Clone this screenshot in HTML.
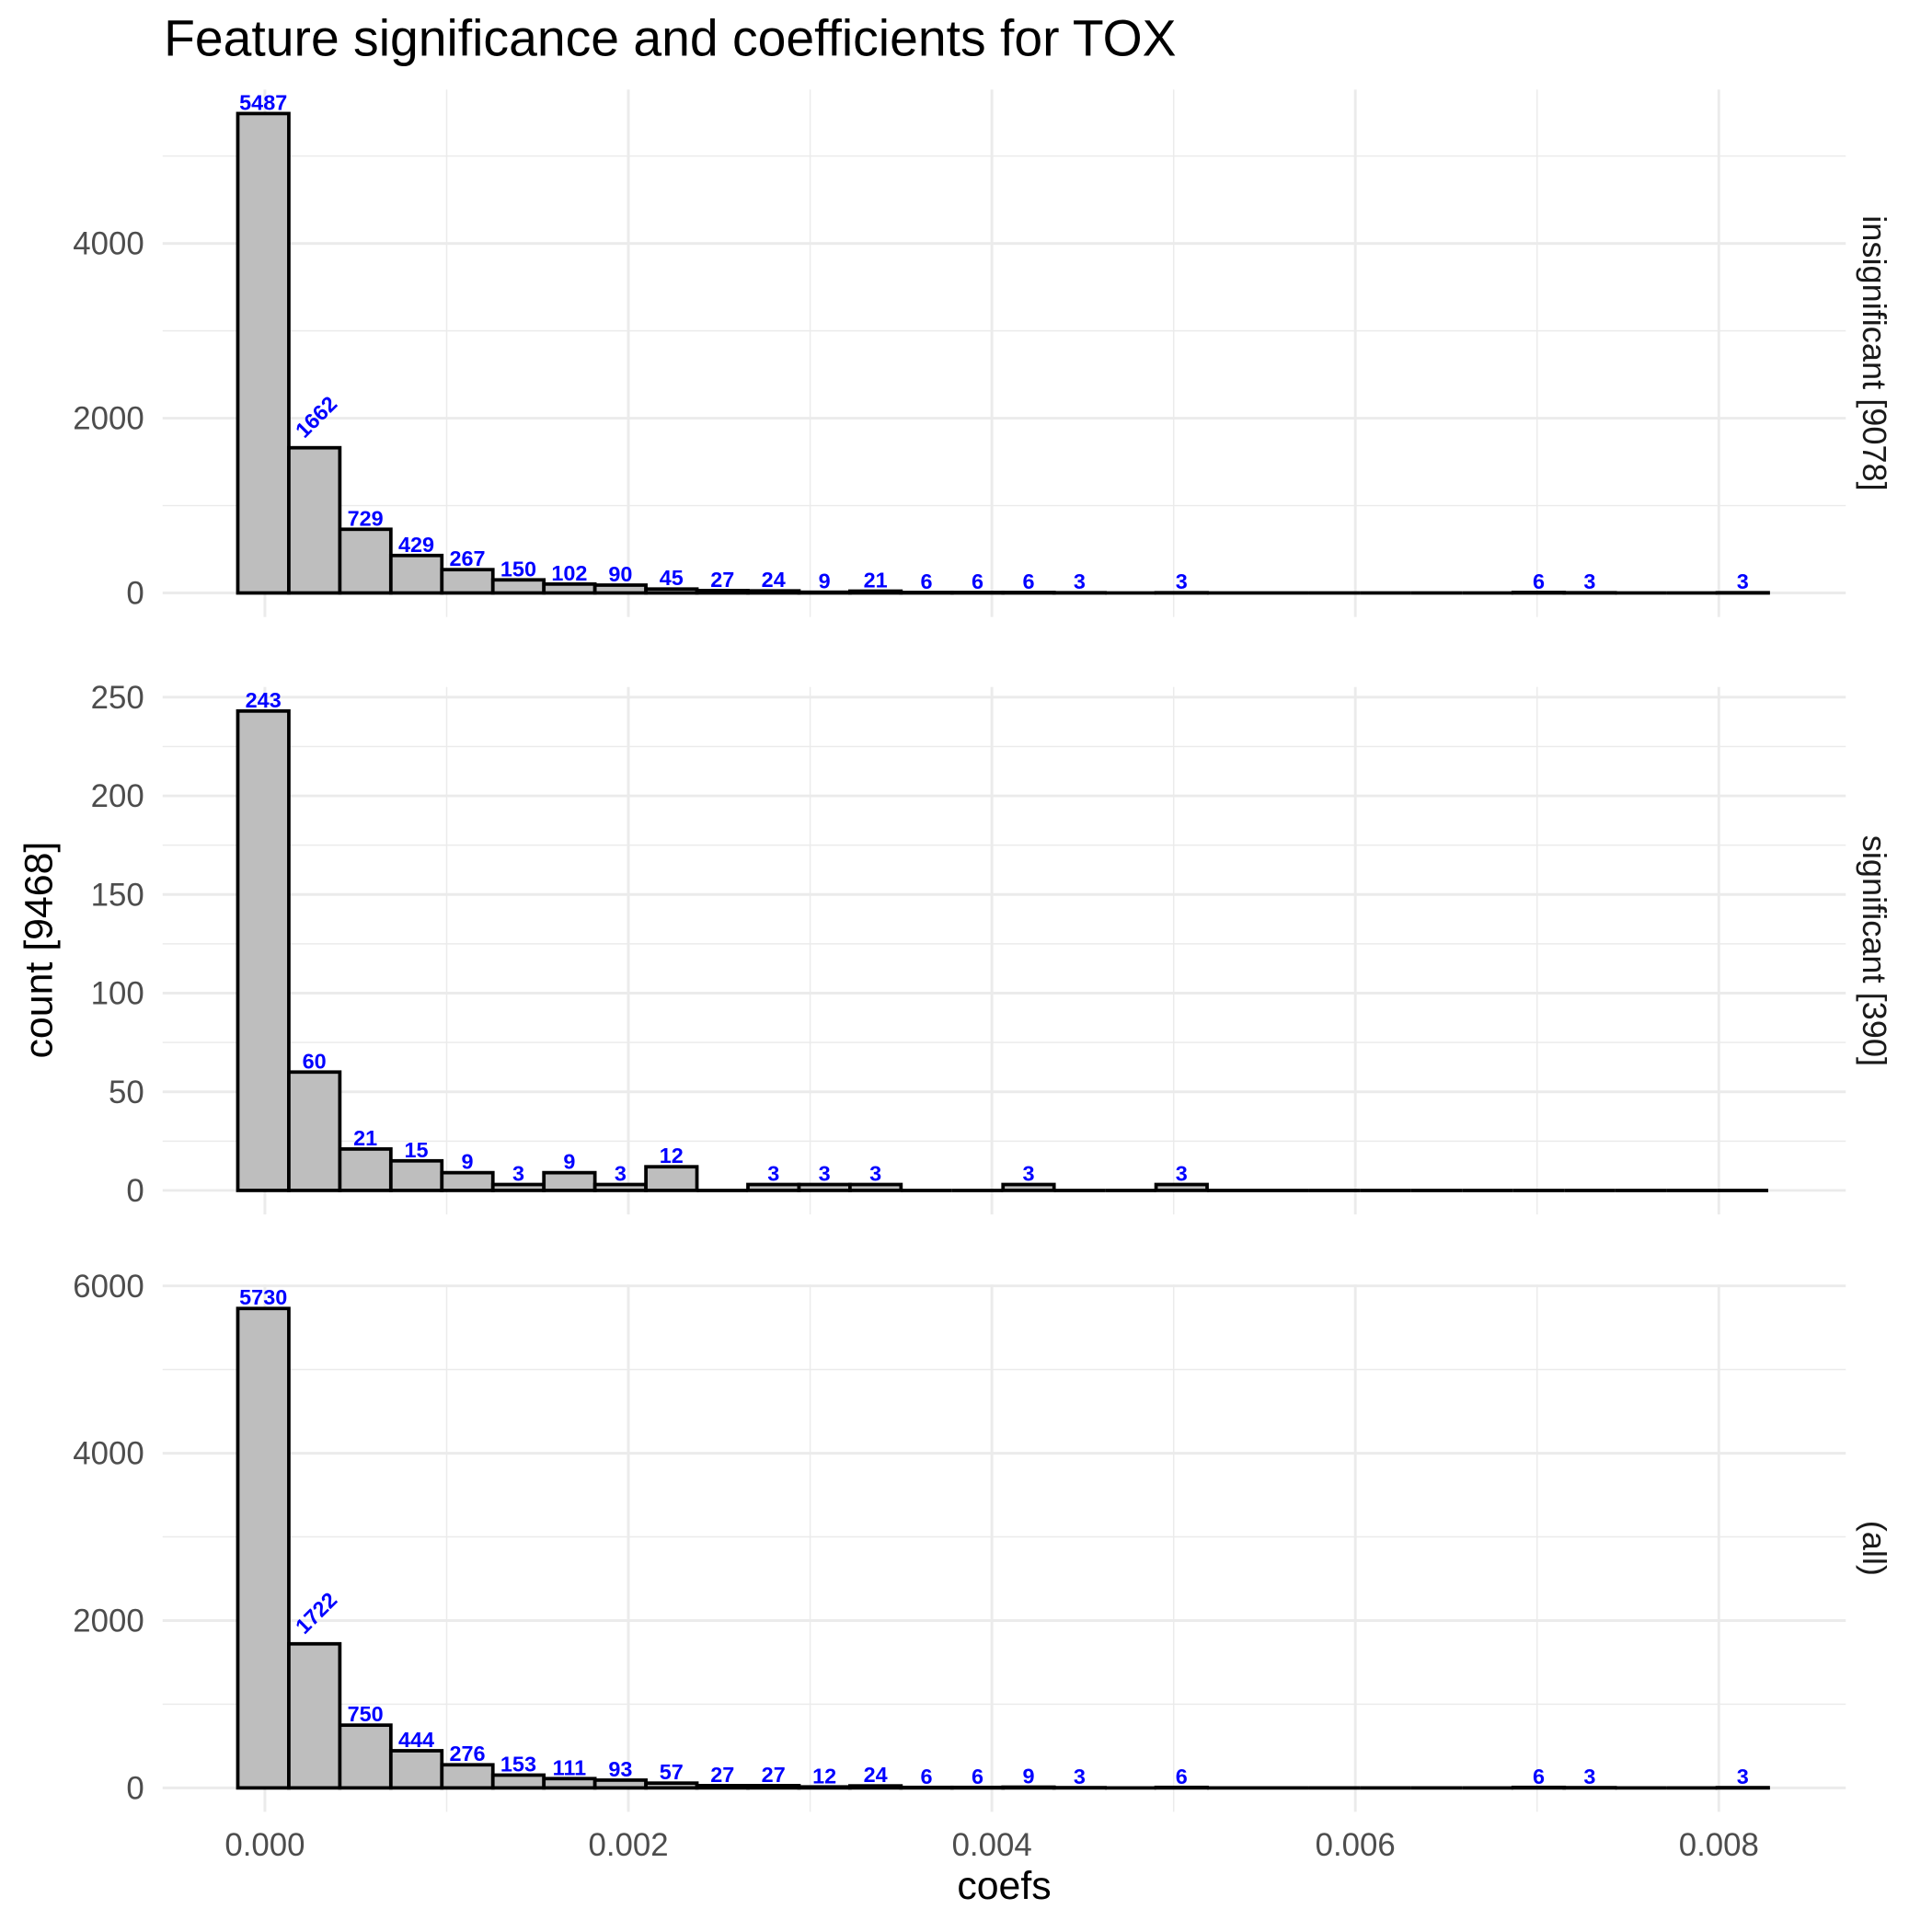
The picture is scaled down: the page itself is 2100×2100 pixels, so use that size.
<!DOCTYPE html>
<html><head><meta charset="utf-8"><style>
html,body{margin:0;padding:0;background:#fff;}
svg{display:block;font-family:"Liberation Sans",Arial,sans-serif;}
</style></head><body>
<svg id="chart" width="2100" height="2100" viewBox="0 0 1568 1568" xmlns="http://www.w3.org/2000/svg">
<rect width="1568" height="1568" fill="#fff"/>
<text x="133" y="45" font-size="41.3" fill="#000">Feature significance and coefficients for TOX</text>
<text x="815" y="1541" font-size="32" text-anchor="middle" fill="#000">coefs</text>
<text transform="translate(42,771) rotate(-90)" font-size="32" text-anchor="middle" fill="#000">count [9468]</text>
<g id="panels"></g>
</svg>
<script>
const insignificantCounts = [5487,1662,729,429,267,150,102,90,45,27,24,9,21,6,6,6,3,0,3,0,0,0,0,0,0,6,3,0,0,3];
const significantCounts = [243,60,21,15,9,3,9,3,12,0,3,3,3,0,0,3,0,0,3,0,0,0,0,0,0,0,0,0,0,0];
const allCounts = [5730,1722,750,444,276,153,111,93,57,27,27,12,24,6,6,9,3,0,6,0,0,0,0,0,0,6,3,0,0,3];
const stripLabels = ["insignificant [9078]","significant [390]","(all)"];
const xTicks = [0,0.002,0.004,0.006,0.008];
const xTickLabels = ["0.000","0.002","0.004","0.006","0.008"];
const yTicks1 = [0,2000,4000];
const yTicks2 = [0,50,100,150,200,250];
const yTicks3 = [0,2000,4000,6000];
const binWidth = 0.0002807;
const binStart = -0.0000088;

const NS = "http://www.w3.org/2000/svg";
const g = document.getElementById('panels');
const PL = 132, PR = 1498;
function xs(v){ return 215 + v*147500; }
function mk(tag, attrs, parent){ const e=document.createElementNS(NS,tag); for(const k in attrs) e.setAttribute(k,attrs[k]); (parent||g).appendChild(e); return e; }

const panels = [
  {counts: insignificantCounts, ticks: yTicks1, top: 72.7, bottom: 500.7, name:'insignificant'},
  {counts: significantCounts, ticks: yTicks2, top: 557.6, bottom: 985.6, name:'significant'},
  {counts: allCounts, ticks: yTicks3, top: 1042.5, bottom: 1470.5, name:'all'}
];

panels.forEach((p, pi) => {
  const maxC = Math.max(...p.counts);
  const lo = -0.05*maxC, hi = maxC*1.05;
  const ys = v => p.bottom - (v - lo)/(hi - lo)*(p.bottom - p.top);
  const pg = mk('g', {});
  
  
  const step = p.ticks[1]-p.ticks[0];
  for (let v = step/2; v <= hi; v += step) {
    const l = mk('line',{x1:PL,x2:PR,y1:ys(v),y2:ys(v),stroke:'#ebebeb','stroke-width':1.1},pg);
    
    
  }
  for (let i = 0; i < xTicks.length-1; i++) {
    const v = (xTicks[i]+xTicks[i+1])/2;
    const l = mk('line',{x1:xs(v),x2:xs(v),y1:p.top,y2:p.bottom,stroke:'#ebebeb','stroke-width':1.1},pg);
    
    
  }
  p.ticks.forEach(t => {
    const l = mk('line',{x1:PL,x2:PR,y1:ys(t),y2:ys(t),stroke:'#ebebeb','stroke-width':2.2},pg);
    
    
    const tx = mk('text',{x:117,y:ys(t)+9,'font-size':26,'text-anchor':'end',fill:'#4d4d4d'},pg);
    tx.textContent = String(t);
    
    
  });
  xTicks.forEach(t => {
    const l = mk('line',{x1:xs(t),x2:xs(t),y1:p.top,y2:p.bottom,stroke:'#ebebeb','stroke-width':2.2},pg);
    
    
  });
  p.counts.forEach((c, k) => {
    const cx = binStart + k*binWidth;
    const x0 = xs(cx - binWidth/2), x1 = xs(cx + binWidth/2);
    const y0 = ys(0), y1 = ys(c);
    if (c > 0) {
      const r = mk('rect',{x:x0,y:y1,width:x1-x0,height:y0-y1,fill:'#bebebe',stroke:'#000','stroke-width':2.8},pg);
      
      
    } else {
      const r = mk('line',{x1:x0,x2:x1,y1:y0,y2:y0,stroke:'#000','stroke-width':2.8},pg);
      
      
    }
    if (c > 0) {
      const mid = (x0+x1)/2;
      let t;
      if (c >= 1000 && k > 0) {
        t = mk('text',{x:mid-8,y:y1-7,'font-size':17.5,'font-weight':'bold',fill:'#0000ff',transform:`rotate(-45 ${mid-8} ${y1-7})`},pg);
      } else {
        t = mk('text',{x:mid,y:y1-3,'font-size':17.5,'font-weight':'bold','text-anchor':'middle',fill:'#0000ff'},pg);
      }
      t.textContent = String(c);
      
      
    }
  });
  const st = mk('text',{transform:`translate(1512,${(p.top+p.bottom)/2}) rotate(90)`,'font-size':27,'text-anchor':'middle',fill:'#1a1a1a'},pg);
  st.textContent = stripLabels[pi];
  
  
});
xTicks.forEach((t,i) => {
  const tx = mk('text',{x:xs(t),y:1506,'font-size':26,'text-anchor':'middle',fill:'#4d4d4d'});
  tx.textContent = xTickLabels[i];
  
  
});
</script>
</body></html>
